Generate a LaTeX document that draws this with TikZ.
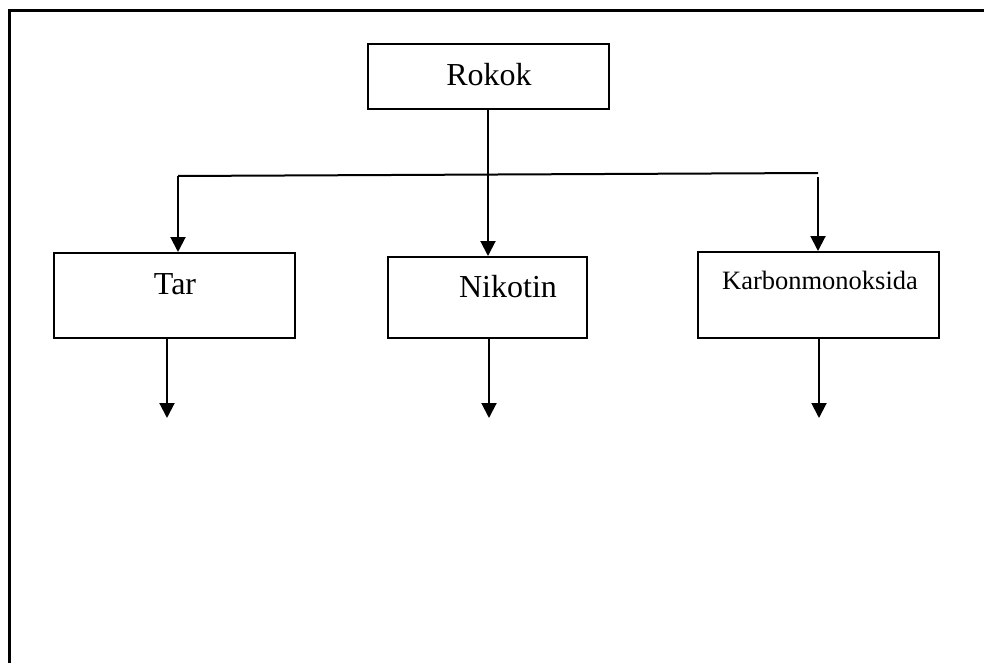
\documentclass[tikz,border=0pt]{standalone}
\usepackage{fontspec}
\setmainfont{Liberation Serif}
\usetikzlibrary{arrows.meta}
\begin{document}
\begin{tikzpicture}[x=1pt,y=-1pt,
  boxnode/.style={draw=black,line width=2pt,rectangle,inner sep=0pt},
  txt/.style={anchor=base,inner sep=0pt,font=\fontsize{32}{36}\selectfont},
  smalltxt/.style={anchor=base,inner sep=0pt,font=\fontsize{26.5}{30}\selectfont},
  conn/.style={draw=black,line width=2pt},
  arr/.style={conn,-{Triangle[length=15pt,width=15pt]}}]
\useasboundingbox (0,0) rectangle (984,663);
\clip (0,0) rectangle (984,663);
% outer frame (right and bottom sides fall outside the picture)
\draw[line width=3pt] (9.5,700) -- (9.5,11) -- (1000,11);
% boxes
\node[boxnode,minimum width=241pt,minimum height=65pt] (rokok) at (488.5,76.5) {};
\node[boxnode,minimum width=241pt,minimum height=85pt] (tar) at (174.5,295.5) {};
\node[boxnode,minimum width=199pt,minimum height=81pt] (nikotin) at (487.5,297.5) {};
\node[boxnode,minimum width=241pt,minimum height=86pt] (karbon) at (818.5,295) {};
% texts
\node[txt] (rokokText) at (489,86) {Rokok};
\node[txt] (tarText) at (175,294) {Tar};
\node[txt] (nikotinText) at (508,297) {Nikotin};
\node[smalltxt] (karbonText) at (820,289) {Karbonmonoksida};
% branching line
\coordinate (hl) at (178,176);
\coordinate (hr) at (818,173);
\draw[conn] (hl) -- (hr);
\draw[arr] (rokok.south -| 488,0) -- (488,0 |- nikotin.north);
\draw[arr] (hl) -- (hl |- tar.north);
\draw[arr] (hr) ++(0,4) -- (hr |- karbon.north);
% outgoing arrows
\coordinate (tarEnd) at (167,418);
\coordinate (nikotinEnd) at (489,418);
\coordinate (karbonEnd) at (819,418);
\draw[arr] (tarEnd |- tar.south) -- (tarEnd);
\draw[arr] (nikotinEnd |- nikotin.south) -- (nikotinEnd);
\draw[arr] (karbonEnd |- karbon.south) -- (karbonEnd);
\end{tikzpicture}
\end{document}
